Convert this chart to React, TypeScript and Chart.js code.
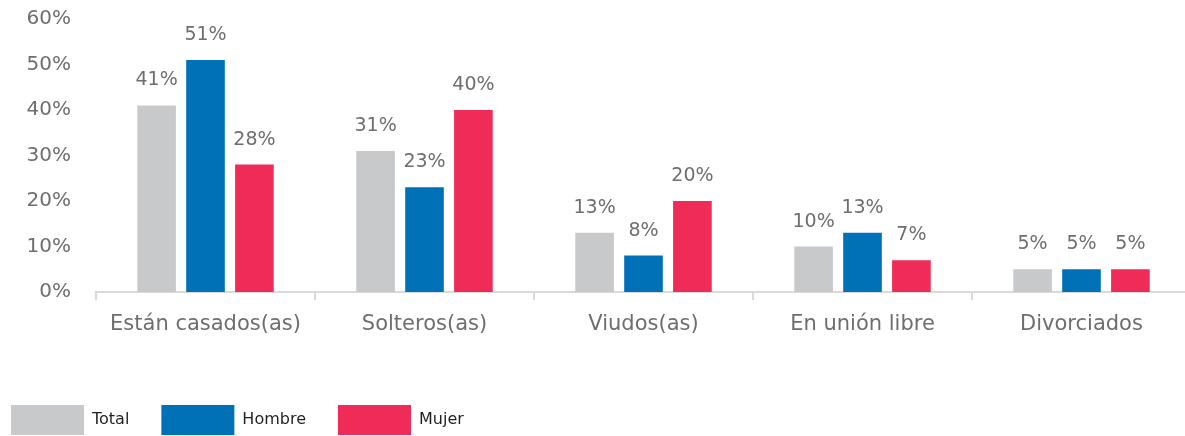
import React, { useEffect, useRef } from "react";
import { Chart, registerables } from "chart.js";

Chart.register(...registerables);

const categories = ["Están casados(as)", "Solteros(as)", "Viudos(as)", "En unión libre", "Divorciados"];
const totalValues = [41, 31, 13, 10, 5];
const hombreValues = [51, 23, 8, 13, 5];
const mujerValues = [28, 40, 20, 7, 5];
const seriesNames = ["Total", "Hombre", "Mujer"];
const yTicks = [0, 10, 20, 30, 40, 50, 60];

const FONT = "'DejaVu Sans', sans-serif";
const LABEL_GRAY = "#6d6e71";

const valueLabels = {
  id: "valueLabels",
  afterDatasetsDraw(chart: any) {
    const ctx = chart.ctx;
    ctx.save();
    ctx.font = `19px ${FONT}`;
    ctx.fillStyle = LABEL_GRAY;
    ctx.textAlign = "center";
    ctx.textBaseline = "alphabetic";
    chart.data.datasets.forEach((ds: any, i: number) => {
      const meta = chart.getDatasetMeta(i);
      meta.data.forEach((el: any, j: number) => {
        ctx.fillText(ds.data[j] + "%", el.x, el.y - 20);
      });
    });
    ctx.restore();
  },
};

export default function App() {
  const ref = useRef<HTMLCanvasElement>(null);
  useEffect(() => {
    const chart = new Chart(ref.current!, {
      type: "bar",
      data: {
        labels: categories,
        datasets: [
          { label: seriesNames[0], data: totalValues, backgroundColor: "#c8c9cb" },
          { label: seriesNames[1], data: hombreValues, backgroundColor: "#0071b7" },
          { label: seriesNames[2], data: mujerValues, backgroundColor: "#ef2b57" },
        ],
      },
      options: {
        responsive: false,
        animation: false,
        devicePixelRatio: 1,
        categoryPercentage: 0.67,
        barPercentage: 0.79,
        layout: { padding: { top: 19, left: 0, right: 0, bottom: 0 } },
        plugins: {
          tooltip: { enabled: false },
          legend: {
            position: "bottom",
            align: "start",
            labels: {
              boxWidth: 73,
              boxHeight: 30,
              padding: 32,
              color: "#231f20",
              font: { family: FONT, size: 16 },
            },
          },
        },
        scales: {
          x: {
            afterFit: (s: any) => { s.height = 81; },
            grid: {
              display: true,
              offset: true,
              drawOnChartArea: false,
              drawTicks: true,
              tickLength: 8,
              color: "#d9d9d9",
              lineWidth: 2,
            },
            border: { display: true, color: "#d9d9d9", width: 2 },
            ticks: { color: LABEL_GRAY, font: { family: FONT, size: 21 }, padding: 12, maxRotation: 0 },
          },
          y: {
            min: 0,
            max: 60,
            afterFit: (s: any) => {
              s.width = 117;
              s.paddingTop = 0;
              s.paddingBottom = 0;
            },
            afterBuildTicks: (s: any) => { s.ticks = yTicks.map((v) => ({ value: v })); },
            grid: { display: false, drawTicks: false },
            border: { display: false },
            ticks: {
              color: LABEL_GRAY,
              font: { family: FONT, size: 20 },
              padding: 25,
              callback: (v: any) => v + "%",
            },
          },
        },
      },
      plugins: [valueLabels],
    });
    return () => chart.destroy();
  }, []);
  return (
    <div style={{ position: "fixed", left: 0, top: 0, width: 1185, height: 436, overflow: "hidden", background: "#fff" }}>
      <div style={{ position: "absolute", left: -21, top: 0 }}>
        <canvas ref={ref} width={1212} height={445} style={{ display: "block" }} />
      </div>
    </div>
  );
}
